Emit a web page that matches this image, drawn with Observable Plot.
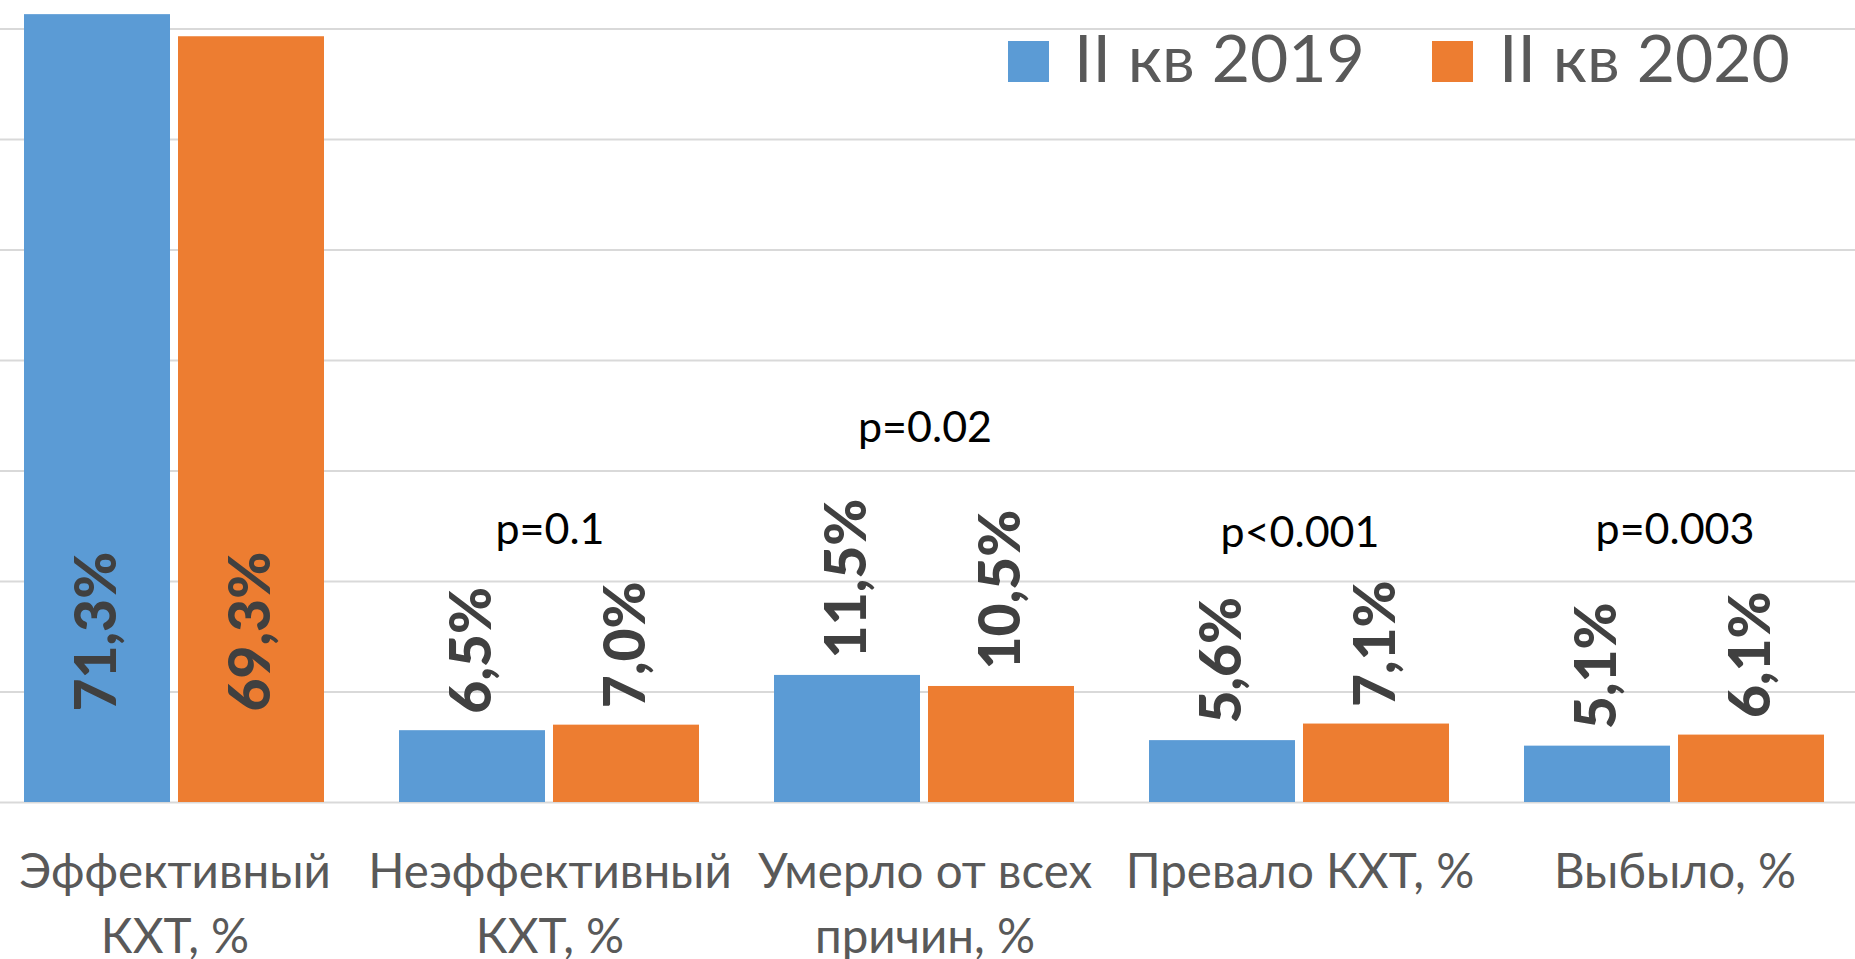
<!DOCTYPE html>
<html>
<head>
<meta charset="utf-8">
<script src="https://cdn.jsdelivr.net/npm/d3@7"></script>
<script src="https://cdn.jsdelivr.net/npm/@observablehq/plot@0.6"></script>
<style>
  html, body { margin: 0; padding: 0; background: #fff; }
  #wrap { position: relative; width: 1855px; height: 959px; overflow: hidden; }
  #chart svg { position: absolute; left: -15px; top: 0; max-width: none !important; width: 1878px; height: 959px; }
  .leg-sw { position: absolute; width: 41px; height: 41px; }
  .leg-tx { position: absolute; font-family: Lato, sans-serif; font-size: 66px; line-height: 66px; color: #595959; white-space: nowrap; }
</style>
</head>
<body>
<div id="wrap"><div id="chart"></div></div>
<script>
const categories = ["Эффективный\nКХТ, %", "Неэффективный\nКХТ, %", "Умерло от всех\nпричин, %", "Превало КХТ, %", "Выбыло, %"];
const seriesNames = ["II кв 2019", "II кв 2020"];
const seriesColors = ["#5B9BD5", "#ED7D31"];
const values2019 = [71.3, 6.5, 11.5, 5.6, 5.1];
const values2020 = [69.3, 7.0, 10.5, 7.1, 6.1];
const pValues = ["", "p=0.1", "p=0.02", "p<0.001", "p=0.003"];
const pLevels = [null, 23.4, 32.6, 23.1, 23.4];
const gridTicks = [0, 10, 20, 30, 40, 50, 60, 70];

const rows = [];
categories.forEach((c, i) => {
  rows.push({cat: c, series: seriesNames[0], value: values2019[i], idx: i});
  rows.push({cat: c, series: seriesNames[1], value: values2020[i], idx: i});
});
const pRows = categories.map((c, i) => ({cat: c, text: pValues[i], level: pLevels[i]})).filter(d => d.text);
const fmt = v => v.toFixed(1).replace(".", ",") + "%";

const chart = Plot.plot({
  width: 1878,
  height: 959,
  marginLeft: 0,
  marginRight: 0,
  marginTop: 0,
  marginBottom: 157,
  style: {fontFamily: "Lato, sans-serif", background: "#fff", overflow: "visible", maxWidth: "none"},
  fx: {domain: categories, paddingInner: 0, paddingOuter: 0, label: null},
  x: {domain: seriesNames, paddingInner: 0.0516, paddingOuter: 0.2374, axis: null},
  y: {domain: [0, 72.58], axis: null},
  color: {domain: seriesNames, range: seriesColors},
  marks: [
    Plot.ruleY(gridTicks, {stroke: "#d9d9d9", strokeWidth: 2}),
    Plot.barY(rows, {fx: "cat", x: "series", y: "value", fill: "series"}),
    Plot.text(rows.filter(d => d.idx === 0), {
      fx: "cat", x: "series", y: 0, text: d => fmt(d.value),
      rotate: -90, textAnchor: "start", lineAnchor: "middle", dy: -91,
      fontSize: 57, fontWeight: 900, fill: "#404040"
    }),
    Plot.text(rows.filter(d => d.idx !== 0), {
      fx: "cat", x: "series", y: "value", text: d => fmt(d.value),
      rotate: -90, textAnchor: "start", lineAnchor: "middle", dy: -17,
      fontSize: 57, fontWeight: 900, fill: "#404040"
    }),
    Plot.text(pRows, {
      fx: "cat", y: "level", text: "text", frameAnchor: "middle",
      lineAnchor: "bottom", fontSize: 43, fill: "#000"
    }),
    Plot.axisFx({
      anchor: "bottom", tickSize: 0, tickPadding: 39, fontSize: 47.5,
      lineHeight: 65 / 47.5, color: "#595959", label: null
    })
  ]
});
document.getElementById("chart").appendChild(chart);

// legend
const wrap = document.getElementById("wrap");
const legPos = [{sw: 1008, tx: 1074}, {sw: 1432, tx: 1499}];
seriesNames.forEach((name, i) => {
  const sw = document.createElement("div");
  sw.className = "leg-sw";
  sw.style.left = legPos[i].sw + "px";
  sw.style.top = "41px";
  sw.style.background = seriesColors[i];
  wrap.appendChild(sw);
  const tx = document.createElement("div");
  tx.className = "leg-tx";
  tx.style.left = legPos[i].tx + "px";
  tx.style.top = "24px";
  tx.textContent = name;
  wrap.appendChild(tx);
});
</script>
</body>
</html>
